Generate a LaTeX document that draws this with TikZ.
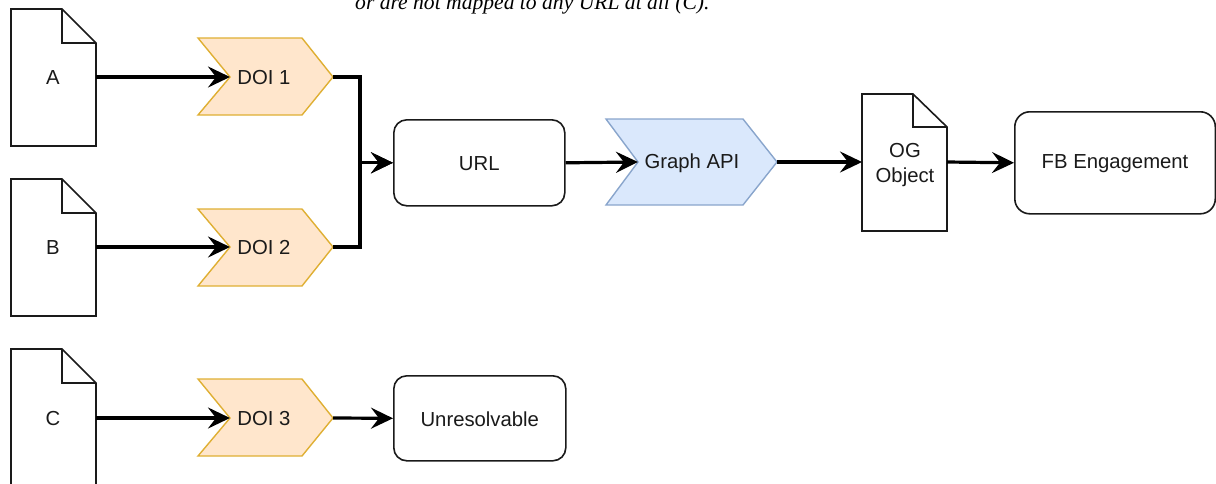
\documentclass[tikz,border=0pt]{standalone}
\usepackage{fontspec}
\setmainfont{Liberation Sans}
\newfontfamily\capserif{Liberation Serif}
\usetikzlibrary{arrows.meta}
\definecolor{doifill}{HTML}{FFE6CC}
\definecolor{doidraw}{HTML}{D79B00}
\definecolor{apifill}{HTML}{DAE8FC}
\definecolor{apidraw}{HTML}{6C8EBF}
\definecolor{ink}{HTML}{1A1A1A}
\tikzset{
  docline/.style={draw=ink, line width=1.6pt, fill=white, line join=miter},
  chevdoi/.style={draw=doidraw!80, fill=doifill, line width=1.4pt, line join=miter},
  chevapi/.style={draw=apidraw!80, fill=apifill, line width=1.4pt, line join=miter},
  rbox/.style={draw=ink, line width=1.6pt, fill=white, rounded corners=13pt},
  lbl/.style={inner sep=0pt, text=ink, font=\fontsize{20.3}{25}\selectfont, align=center},
  conn/.style={draw=black, line width=3.2pt, -{Stealth[length=22pt, width=21pt, inset=8pt]}},
}
\begin{document}
\begin{tikzpicture}[x=1pt, y=-1pt]
\clip (0,0) rectangle (1216,483);
% caption fragment
\node[anchor=base west, inner sep=0pt, font=\capserif\itshape\fontsize{21.6}{26}\selectfont] (cap) at (355,9) {or are not mapped to any URL at all (C).};

% documents
\path[docline] (11,9) -- (62,9) -- (96,43) -- (96,146) -- (11,146) -- cycle;
\draw[docline, fill=none] (62,9) -- (62,43) -- (96,43);
\node[lbl] (docA) at (53,78) {A};
\coordinate (docAout) at (96,77);

\path[docline] (11,179) -- (62,179) -- (96,213) -- (96,316) -- (11,316) -- cycle;
\draw[docline, fill=none] (62,179) -- (62,213) -- (96,213);
\node[lbl] (docB) at (53,248) {B};
\coordinate (docBout) at (96,247);

\path[docline] (11,349) -- (62,349) -- (96,383) -- (96,500) -- (11,500) -- cycle;
\draw[docline, fill=none] (62,349) -- (62,383) -- (96,383);
\node[lbl] (docC) at (53,419) {C};
\coordinate (docCout) at (96,418);

% DOI chevrons
\path[chevdoi] (198,38) -- (302,38) -- (333,77) -- (302,115) -- (198,115) -- (230,77) -- cycle;
\node[lbl] (doi1) at (264,78) {DOI 1};
\coordinate (doi1in) at (230,77);
\coordinate (doi1out) at (333,77);

\path[chevdoi] (198,209) -- (302,209) -- (333,247) -- (302,286) -- (198,286) -- (230,247) -- cycle;
\node[lbl] (doi2) at (264,248) {DOI 2};
\coordinate (doi2in) at (230,247);
\coordinate (doi2out) at (333,247);

\path[chevdoi] (198,379) -- (302,379) -- (333,418) -- (302,456) -- (198,456) -- (230,418) -- cycle;
\node[lbl] (doi3) at (264,419) {DOI 3};
\coordinate (doi3in) at (230,418);
\coordinate (doi3out) at (333,418);

% URL and Unresolvable
\node[rbox, minimum width=171pt, minimum height=86pt, inner sep=0pt, anchor=north west] (url) at (393,119) {};
\node[lbl] (urltext) at ([yshift=-1pt]url.center) {URL};
\node[rbox, minimum width=172pt, minimum height=85pt, inner sep=0pt, anchor=north west] (unres) at (393,375) {};
\node[lbl] (unrestext) at ([yshift=-1pt]unres.center) {Unresolvable};

% Graph API
\path[chevapi] (606,119) -- (743,119) -- (777,162) -- (743,205) -- (606,205) -- (638,162) -- cycle;
\node[lbl] (gapi) at (692,163) {Graph API};
\coordinate (gapiin) at (638,162);
\coordinate (gapiout) at (777,162);

% OG Object document
\path[docline] (862,94) -- (913,94) -- (947,127) -- (947,231) -- (862,231) -- cycle;
\draw[docline, fill=none] (913,94) -- (913,127) -- (947,127);
\node[lbl] (og) at (905,165) {OG\\Object};
\coordinate (ogin) at (862,162);
\coordinate (ogout) at (947,162);

% FB Engagement
\node[rbox, rounded corners=15pt, minimum width=200.5pt, minimum height=102pt, inner sep=0pt, anchor=north west] (fb) at (1014,111) {};
\node[lbl] (fbtext) at ([yshift=-1pt]fb.center) {FB Engagement};

% connectors
\draw[conn] (docAout) -- (doi1in);
\draw[conn] (docBout) -- (doi2in);
\draw[conn] (docCout) -- (doi3in);
\draw[conn, rounded corners=0pt] (doi1out) -- ++(27,0) |- (url.west);
\draw[conn, rounded corners=0pt] (doi2out) -- ++(27,0) |- (url.west);
\draw[conn] (doi3out) -- (unres.west);
\draw[conn] (url.east) -- (gapiin);
\draw[conn] (gapiout) -- (ogin);
\draw[conn] (ogout) -- (fb.west);
\end{tikzpicture}
\end{document}
